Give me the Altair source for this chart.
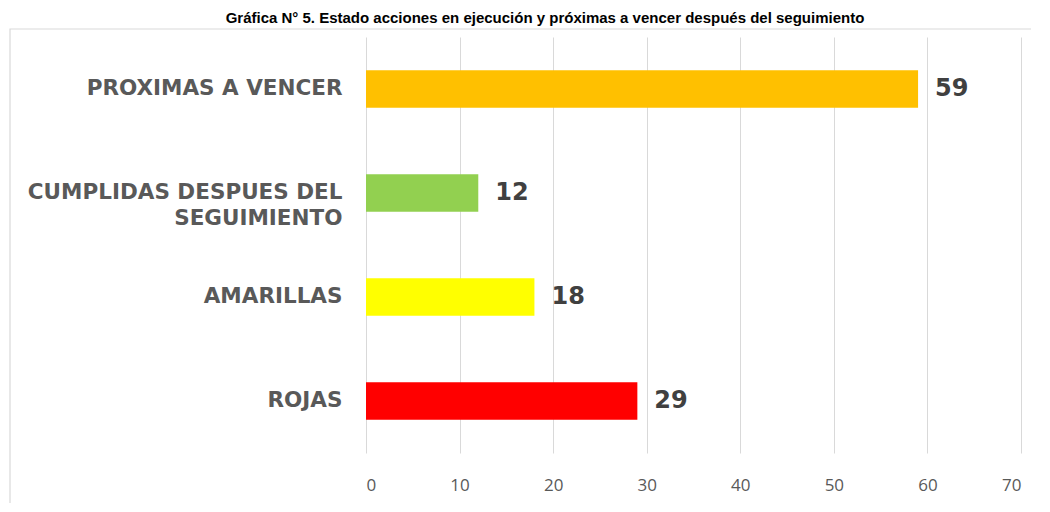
import altair as alt
import pandas as pd

categories = ["PROXIMAS A VENCER", "CUMPLIDAS DESPUES DEL|SEGUIMIENTO", "AMARILLAS", "ROJAS"]
values = [59, 12, 18, 29]
colors = ["#FFC000", "#92D050", "#FFFF00", "#FF0000"]
x_ticks = [0, 10, 20, 30, 40, 50, 60, 70]
title_text = "Gráfica N° 5. Estado acciones en ejecución y próximas a vencer después del seguimiento"

df = pd.DataFrame({"cat": categories, "val": values, "color": colors})

x_scale = alt.Scale(domain=[0, 70], nice=False)
y_enc = alt.Y("cat:N", sort=categories, title=None,
              scale=alt.Scale(paddingInner=0.64, paddingOuter=0.32),
              axis=alt.Axis(labelExpr="split(datum.label, '|')", labelFont="DejaVu Sans",
                            labelFontWeight="bold", labelFontSize=21.5, labelColor="#595959",
                            labelPadding=24, ticks=False, domain=False, labelAlign="right",
                            labelLineHeight=26, labelLimit=400))

bars = alt.Chart(df).mark_bar().encode(
    x=alt.X("val:Q", scale=x_scale, title=None,
            axis=alt.Axis(values=x_ticks, grid=True, gridColor="#d9d9d9", ticks=False,
                          domain=False, labelFont="Open Sans", labelFontSize=17,
                          labelColor="#595959", labelPadding=24)),
    y=y_enc,
    color=alt.Color("color:N", scale=None),
)

labels = alt.Chart(df).mark_text(align="left", baseline="middle", dx=17, font="DejaVu Sans",
                                 fontWeight="bold", fontSize=24, color="#404040").encode(
    x=alt.X("val:Q", scale=x_scale),
    y=alt.Y("cat:N", sort=categories),
    text="val:Q",
)

border_df = pd.DataFrame({"a": [0]})
border = alt.Chart(border_df).mark_rect(fill=None, stroke="#d9d9d9", strokeWidth=1.2).encode(
    x=alt.value(-356), x2=alt.value(674), y=alt.value(-8), y2=alt.value(500))

title = alt.Chart(border_df).mark_text(font="Liberation Sans", fontWeight="bold", fontSize=15,
                                       color="#000000", align="center", baseline="alphabetic").encode(
    x=alt.value(179), y=alt.value(-14), text=alt.value(title_text))

chart = alt.layer(border, bars, labels, title).properties(
    width=655, height=416,
    autosize=alt.AutoSizeParams(type="none"),
    padding={"left": 358, "top": 29, "right": 10, "bottom": 50},
).configure_view(stroke=None)

chart.save("out.html", embed_options={"renderer": "svg", "actions": False})
